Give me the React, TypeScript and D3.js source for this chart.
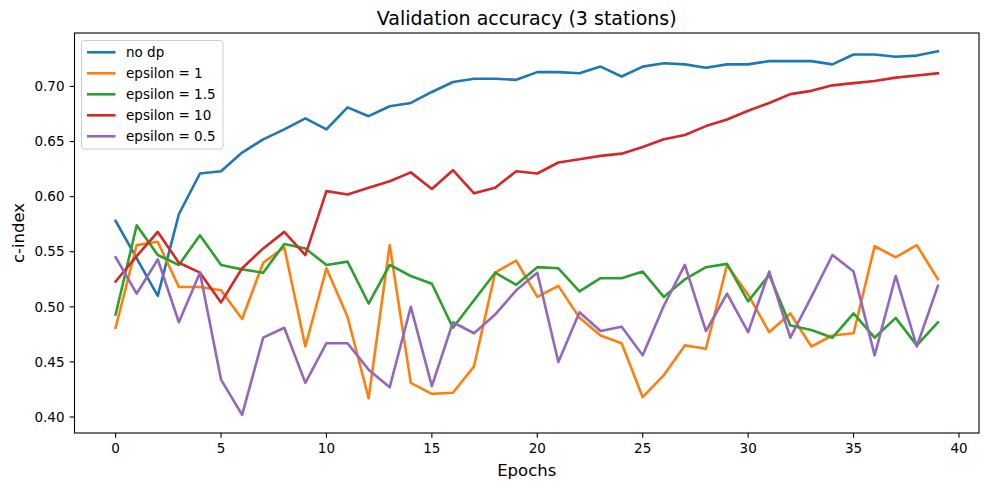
import React from 'react';
import * as d3 from 'd3';

const epochs = d3.range(0, 40);

const noDp = [
  0.578, 0.544, 0.510, 0.584, 0.621, 0.623, 0.640, 0.652, 0.661, 0.671,
  0.661, 0.681, 0.673, 0.682, 0.685, 0.695, 0.704, 0.707, 0.707, 0.706,
  0.713, 0.713, 0.712, 0.718, 0.709, 0.718, 0.721, 0.720, 0.717, 0.720,
  0.720, 0.723, 0.723, 0.723, 0.720, 0.729, 0.729, 0.727, 0.728, 0.732,
];
const eps1 = [
  0.481, 0.556, 0.559, 0.518, 0.518, 0.515, 0.489, 0.540, 0.554, 0.464,
  0.535, 0.491, 0.417, 0.556, 0.431, 0.421, 0.422, 0.446, 0.531, 0.542,
  0.509, 0.519, 0.490, 0.474, 0.467, 0.418, 0.438, 0.465, 0.462, 0.538,
  0.511, 0.477, 0.494, 0.464, 0.474, 0.476, 0.555, 0.545, 0.556, 0.525,
];
const eps15 = [
  0.493, 0.574, 0.547, 0.538, 0.565, 0.538, 0.534, 0.531, 0.557, 0.553,
  0.538, 0.541, 0.503, 0.538, 0.528, 0.521, 0.481, 0.506, 0.531, 0.520,
  0.536, 0.535, 0.514, 0.526, 0.526, 0.532, 0.509, 0.525, 0.536, 0.539,
  0.505, 0.529, 0.483, 0.479, 0.472, 0.494, 0.472, 0.490, 0.465, 0.486,
];
const eps10 = [
  0.523, 0.546, 0.568, 0.540, 0.531, 0.504, 0.535, 0.553, 0.568, 0.547,
  0.605, 0.602, 0.608, 0.614, 0.622, 0.607, 0.624, 0.603, 0.608, 0.623,
  0.621, 0.631, 0.634, 0.637, 0.639, 0.645, 0.652, 0.656, 0.664, 0.670,
  0.678, 0.685, 0.693, 0.696, 0.701, 0.703, 0.705, 0.708, 0.710, 0.712,
];
const eps05 = [
  0.545, 0.512, 0.543, 0.486, 0.531, 0.434, 0.402, 0.472, 0.481, 0.431,
  0.467, 0.467, 0.443, 0.427, 0.500, 0.428, 0.486, 0.476, 0.493, 0.515,
  0.531, 0.450, 0.495, 0.478, 0.482, 0.456, 0.501, 0.538, 0.478, 0.512,
  0.477, 0.532, 0.472, 0.509, 0.547, 0.532, 0.456, 0.528, 0.464, 0.519,
];

const seriesNames = ['no dp', 'epsilon = 1', 'epsilon = 1.5', 'epsilon = 10', 'epsilon = 0.5'];
const seriesValues = [noDp, eps1, eps15, eps10, eps05];
const colors = ['#1f77b4', '#ff7f0e', '#2ca02c', '#d62728', '#9467bd'];
const xTicks = [0, 5, 10, 15, 20, 25, 30, 35, 40];
const yTicks = [0.40, 0.45, 0.50, 0.55, 0.60, 0.65, 0.70];

const W = 989;
const H = 490;
const left = 74.5, right = 979, top = 33, bottom = 433;
const font = 'DejaVu Sans, sans-serif';

export default function App() {
  // matplotlib-style 5% margins
  const xMin = 0, xMax = epochs.length - 1;
  const xPad = (xMax - xMin) * 0.05;
  const allVals = seriesValues.flat();
  const yMin = d3.min(allVals)!, yMax = d3.max(allVals)!;
  const yPad = (yMax - yMin) * 0.05;

  const x = d3.scaleLinear().domain([xMin - xPad, xMax + xPad]).range([left, right]);
  const y = d3.scaleLinear().domain([yMin - yPad, yMax + yPad]).range([bottom, top]);

  const line = d3.line<number>()
    .x((_, i) => x(epochs[i]))
    .y(d => y(d));

  const legX = 81.5, legY = 40.5, legW = 141.5, legH = 108.5;

  return (
    <svg width={W} height={H} style={{ position: 'absolute', left: 0, top: 0, background: '#fff' }}
      fontFamily={font}>
      <rect x={0} y={0} width={W} height={H} fill="#fff" />
      <text x={(left + right) / 2} y={25} textAnchor="middle" fontSize={19} fill="#000">
        Validation accuracy (3 stations)
      </text>

      {seriesValues.map((vals, k) => (
        <path key={seriesNames[k]} d={line(vals) || ''} fill="none" stroke={colors[k]}
          strokeWidth={2.6} strokeLinejoin="round" strokeLinecap="square" />
      ))}

      <rect x={left} y={top} width={right - left} height={bottom - top} fill="none" stroke="#000" strokeWidth={1.1} />

      {xTicks.map(t => (
        <g key={'x' + t} transform={`translate(${x(t)},${bottom})`}>
          <line y2={4.8} stroke="#000" strokeWidth={1.1} />
          <text y={19.5} textAnchor="middle" fontSize={13.5} fill="#000">{t}</text>
        </g>
      ))}
      {yTicks.map(t => (
        <g key={'y' + t} transform={`translate(${left},${y(t)})`}>
          <line x2={-4.8} stroke="#000" strokeWidth={1.1} />
          <text x={-10} dy="0.35em" textAnchor="end" fontSize={13.5} fill="#000">{t.toFixed(2)}</text>
        </g>
      ))}

      <text x={(left + right) / 2} y={476} textAnchor="middle" fontSize={16.5} fill="#000">Epochs</text>
      <text transform={`translate(24,${(top + bottom) / 2}) rotate(-90)`} textAnchor="middle" fontSize={16.5} fill="#000">
        c-index
      </text>

      <g>
        <rect x={legX} y={legY} width={legW} height={legH} rx={3} fill="#fff" fillOpacity={0.8}
          stroke="#cccccc" strokeWidth={1} />
        {seriesNames.map((name, k) => {
          const ly = 52.3 + k * 21;
          return (
            <g key={'leg' + k}>
              <line x1={87} x2={115.5} y1={ly} y2={ly} stroke={colors[k]} strokeWidth={2.6} />
              <text x={126} y={ly} dy="0.35em" fontSize={13.5} fill="#000">{name}</text>
            </g>
          );
        })}
      </g>
    </svg>
  );
}
